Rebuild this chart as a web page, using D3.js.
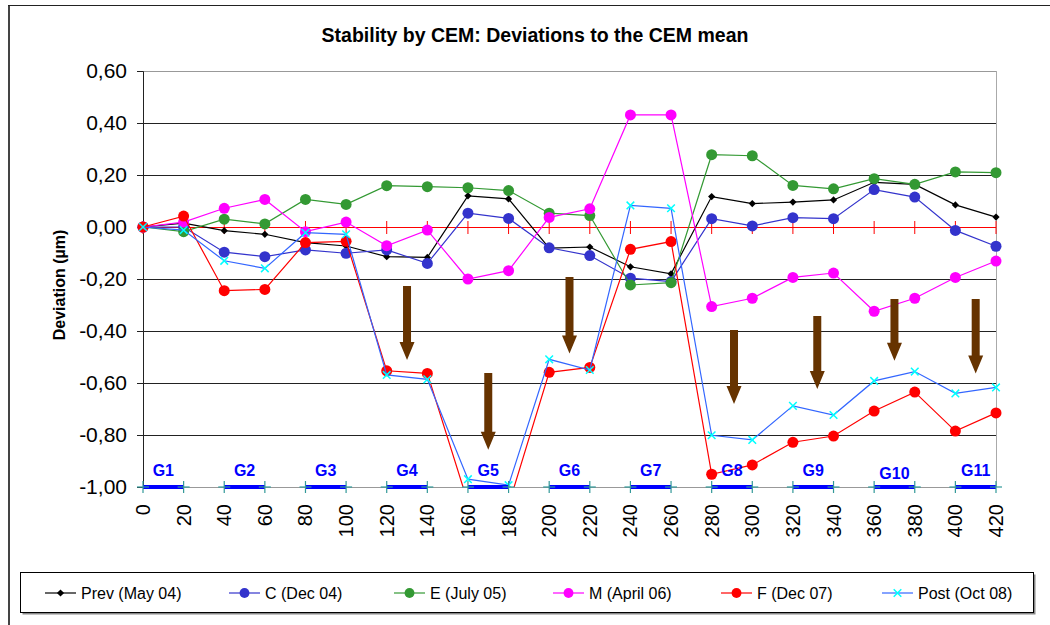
<!DOCTYPE html>
<html>
<head>
<meta charset="utf-8">
<script src="https://cdn.jsdelivr.net/npm/d3@7"></script>
<style>
  body { margin: 0; background: #fff; }
  svg { display: block; font-family: Arial, "Liberation Sans", sans-serif; }
</style>
</head>
<body>
<svg id="chart" width="1050" height="625"></svg>
<script>
// positions along the CEM (x axis)
const positions = [0, 20, 40, 60, 80, 100, 120, 140, 160, 180, 200, 220, 240, 260, 280, 300, 320, 340, 360, 380, 400, 420];

// deviations to the CEM mean (µm)
const prev = [0, 0.015, -0.014, -0.028, -0.06, -0.073, -0.114, -0.117, 0.12, 0.108, -0.081, -0.077, -0.153, -0.18, 0.117, 0.09, 0.096, 0.104, 0.172, 0.164, 0.085, 0.038];
const cDec04 = [0, 0, -0.097, -0.114, -0.088, -0.101, -0.088, -0.14, 0.053, 0.033, -0.08, -0.11, -0.197, -0.21, 0.032, 0.004, 0.036, 0.032, 0.144, 0.115, -0.013, -0.074];
const eJuly05 = [0, -0.018, 0.03, 0.012, 0.106, 0.087, 0.159, 0.155, 0.151, 0.14, 0.053, 0.044, -0.223, -0.214, 0.278, 0.274, 0.16, 0.147, 0.186, 0.164, 0.212, 0.209];
const mApril06 = [0, 0.019, 0.072, 0.106, -0.018, 0.019, -0.072, -0.012, -0.2, -0.168, 0.037, 0.07, 0.431, 0.431, -0.306, -0.274, -0.194, -0.177, -0.324, -0.274, -0.194, -0.131];
const fDec07 = [0, 0.042, -0.245, -0.24, -0.06, -0.055, -0.553, -0.563, -1.06, -1.07, -0.559, -0.54, -0.086, -0.056, -0.951, -0.915, -0.828, -0.804, -0.708, -0.635, -0.785, -0.715];
const postOct08 = [0, -0.012, -0.13, -0.159, -0.022, -0.028, -0.569, -0.586, -0.97, -0.993, -0.509, -0.55, 0.083, 0.072, -0.801, -0.819, -0.688, -0.723, -0.592, -0.556, -0.64, -0.617];

const seriesNames = ['Prev (May 04)', 'C (Dec 04)', 'E (July 05)', 'M (April 06)', 'F (Dec 07)', 'Post (Oct 08)'];

// groups marked on the bottom of the plot
const groupNames = ['G1', 'G2', 'G3', 'G4', 'G5', 'G6', 'G7', 'G8', 'G9', 'G10', 'G11'];
const groupStart = [0, 40, 80, 120, 160, 200, 240, 280, 320, 360, 400];
const groupEnd = [20, 60, 100, 140, 180, 220, 260, 300, 340, 380, 420];

// brown arrows: x position, top and tip in deviation units
const arrowX = [130, 170, 210, 291, 332, 370, 410];
const arrowTop = [-0.227, -0.562, -0.192, -0.396, -0.342, -0.277, -0.277];
const arrowTip = [-0.512, -0.857, -0.487, -0.681, -0.623, -0.514, -0.563];

const yTicks = [0.6, 0.4, 0.2, 0, -0.2, -0.4, -0.6, -0.8, -1.0];

const svg = d3.select('#chart');

const x = d3.scaleLinear().domain([0, 420]).range([143, 996]);
const y = d3.scaleLinear().domain([-1, 0.6]).range([487, 71]);

const fmt = v => (v < -1e-9 ? '-' : '') + Math.abs(v).toFixed(2).replace('.', ',');

// outer frame (partly cut off)
svg.append('line').attr('x1', 9).attr('x2', 9).attr('y1', 5).attr('y2', 625)
  .attr('stroke', '#444').attr('stroke-width', 2);
svg.append('line').attr('x1', 8).attr('x2', 1050).attr('y1', 5.5).attr('y2', 5.5)
  .attr('stroke', '#222').attr('stroke-width', 1);

// title
svg.append('text')
  .attr('x', 535).attr('y', 42)
  .attr('text-anchor', 'middle')
  .style('font-size', '19.5px').style('font-weight', 'bold')
  .text('Stability by CEM: Deviations to the CEM mean');

// y label
svg.append('text')
  .attr('transform', 'translate(65,285) rotate(-90)')
  .attr('text-anchor', 'middle')
  .style('font-size', '16px').style('font-weight', 'bold')
  .text('Deviation (µm)');

// gridlines
svg.append('g')
  .selectAll('line')
  .data(yTicks.filter(v => v !== 0))
  .join('line')
  .attr('x1', x(0)).attr('x2', x(420))
  .attr('y1', d => Math.round(y(d)) + 0.5).attr('y2', d => Math.round(y(d)) + 0.5)
  .attr('stroke', d => (d > 0.5 || d < -0.99) ? '#999' : '#222')
  .attr('stroke-width', 1);

// right border
svg.append('line')
  .attr('x1', x(420) + 0.5).attr('x2', x(420) + 0.5)
  .attr('y1', y(0.6)).attr('y2', y(-1))
  .attr('stroke', '#aaa');

// y axis
const yAxis = svg.append('g')
  .attr('transform', `translate(${x(0)},0)`)
  .call(d3.axisLeft(y).tickValues(yTicks).tickFormat(fmt).tickSize(6).tickPadding(10));
yAxis.select('.domain').attr('stroke', '#222');
yAxis.selectAll('.tick line').attr('stroke', '#222');
yAxis.selectAll('text').style('font-size', '21px').style('font-family', 'Arial, "Liberation Sans", sans-serif').attr('fill', '#000');

// x axis labels (rotated)
svg.append('g')
  .selectAll('text')
  .data(positions)
  .join('text')
  .attr('transform', d => `translate(${x(d)},504) rotate(-90)`)
  .attr('text-anchor', 'end')
  .attr('dy', '0.35em')
  .style('font-size', '20px')
  .text(d => d);

// clip for the series
svg.append('defs').append('clipPath').attr('id', 'plotclip')
  .append('rect')
  .attr('x', x(0) - 8).attr('y', y(0.6) - 8)
  .attr('width', x(420) - x(0) + 16).attr('height', y(-1) - y(0.6) + 8);

const plot = svg.append('g').attr('clip-path', 'url(#plotclip)');

// CEM mean reference (zero line with dash markers)
plot.append('line')
  .attr('x1', x(0)).attr('x2', x(420))
  .attr('y1', y(0) + 0.5).attr('y2', y(0) + 0.5)
  .attr('stroke', '#ff0000').attr('stroke-width', 1);
plot.append('g')
  .selectAll('line')
  .data(positions)
  .join('line')
  .attr('x1', d => x(d)).attr('x2', d => x(d))
  .attr('y1', y(0) - 6).attr('y2', y(0) + 7)
  .attr('stroke', '#ff0000').attr('stroke-width', 1);

// group bars at the bottom
const groups = groupNames.map((g, i) => ({ name: g, start: groupStart[i], end: groupEnd[i] }));
svg.append('g')
  .selectAll('line')
  .data(groups)
  .join('line')
  .attr('x1', d => x(d.start)).attr('x2', d => x(d.end))
  .attr('y1', y(-1)).attr('y2', y(-1))
  .attr('stroke', '#0000ff').attr('stroke-width', 4);
const ends = groups.flatMap(d => [d.start, d.end]);
const plus = svg.append('g').attr('stroke', '#339999').attr('stroke-width', 1.2);
plus.selectAll('line.v').data(ends).join('line').attr('class', 'v')
  .attr('x1', d => x(d)).attr('x2', d => x(d))
  .attr('y1', y(-1) - 6).attr('y2', y(-1) + 6);
plus.selectAll('line.h').data(ends).join('line').attr('class', 'h')
  .attr('x1', d => x(d) - 6).attr('x2', d => x(d) + 6)
  .attr('y1', y(-1)).attr('y2', y(-1));

svg.append('g')
  .selectAll('text')
  .data(groups)
  .join('text')
  .attr('x', d => x((d.start + d.end) / 2))
  .attr('y', d => d.name === 'G10' ? 479 : 476)
  .attr('text-anchor', 'middle')
  .attr('fill', '#0000ff')
  .style('font-size', '16px').style('font-weight', 'bold')
  .text(d => d.name);

// series
const series = [
  { name: seriesNames[0], values: prev, line: '#000000', marker: 'diamond', fill: '#000000' },
  { name: seriesNames[1], values: cDec04, line: '#3333cc', marker: 'circle', fill: '#3333cc' },
  { name: seriesNames[2], values: eJuly05, line: '#339933', marker: 'circle', fill: '#339933' },
  { name: seriesNames[3], values: mApril06, line: '#ff00ff', marker: 'circle', fill: '#ff00ff' },
  { name: seriesNames[4], values: fDec07, line: '#ff0000', marker: 'circle', fill: '#ff0000' },
  { name: seriesNames[5], values: postOct08, line: '#3366ff', marker: 'cross', fill: '#00ffff' }
];

const lineGen = d3.line().x((d, i) => x(positions[i])).y(d => y(d));

function drawMarker(g, type, color, cx, cy, scale) {
  const s = scale || 1;
  if (type === 'circle') {
    g.append('circle').attr('cx', cx).attr('cy', cy).attr('r', 5.5 * s).attr('fill', color);
  } else if (type === 'diamond') {
    const r = 3.6 * s;
    g.append('path')
      .attr('d', `M${cx},${cy - r}L${cx + r},${cy}L${cx},${cy + r}L${cx - r},${cy}Z`)
      .attr('fill', color);
  } else {
    const r = 3.8 * s;
    g.append('path')
      .attr('d', `M${cx - r},${cy - r}L${cx + r},${cy + r}M${cx - r},${cy + r}L${cx + r},${cy - r}`)
      .attr('stroke', color).attr('stroke-width', 1.5).attr('fill', 'none');
  }
}

series.forEach(s => {
  const g = plot.append('g');
  g.append('path')
    .datum(s.values)
    .attr('d', lineGen)
    .attr('fill', 'none')
    .attr('stroke', s.line)
    .attr('stroke-width', 1.2);
  s.values.forEach((v, i) => {
    if (v >= -1.0) drawMarker(g, s.marker, s.fill, x(positions[i]), y(v));
  });
});

// arrows
const arrows = arrowX.map((d, i) => ({ x: d, top: arrowTop[i], tip: arrowTip[i] }));
svg.append('g')
  .selectAll('path')
  .data(arrows)
  .join('path')
  .attr('d', d => {
    const cx = x(d.x), t = y(d.top), b = y(d.tip), hl = 18, sw = 4, hw = 7.5;
    return `M${cx - sw},${t}L${cx + sw},${t}L${cx + sw},${b - hl}L${cx + hw},${b - hl}L${cx},${b}L${cx - hw},${b - hl}L${cx - sw},${b - hl}Z`;
  })
  .attr('fill', '#663300');

// legend
svg.append('rect').attr('x', 22.5).attr('y', 574.5).attr('width', 1013).attr('height', 40)
  .attr('fill', '#888');
svg.append('rect').attr('x', 20.5).attr('y', 572.5).attr('width', 1013).attr('height', 40)
  .attr('fill', '#fff').attr('stroke', '#000').attr('stroke-width', 1);

const legendX = [45, 229, 394, 553, 721, 882];
const legend = svg.append('g');
series.forEach((s, i) => {
  const lx = legendX[i], ly = 593;
  legend.append('line').attr('x1', lx).attr('x2', lx + 31).attr('y1', ly).attr('y2', ly)
    .attr('stroke', s.line).attr('stroke-width', 1.2);
  drawMarker(legend, s.marker, s.fill, lx + 15.5, ly, s.marker === 'circle' ? 0.9 : 1);
  legend.append('text')
    .attr('x', lx + 36).attr('y', ly + 6)
    .style('font-size', '16px')
    .text(s.name);
});
</script>
</body>
</html>
